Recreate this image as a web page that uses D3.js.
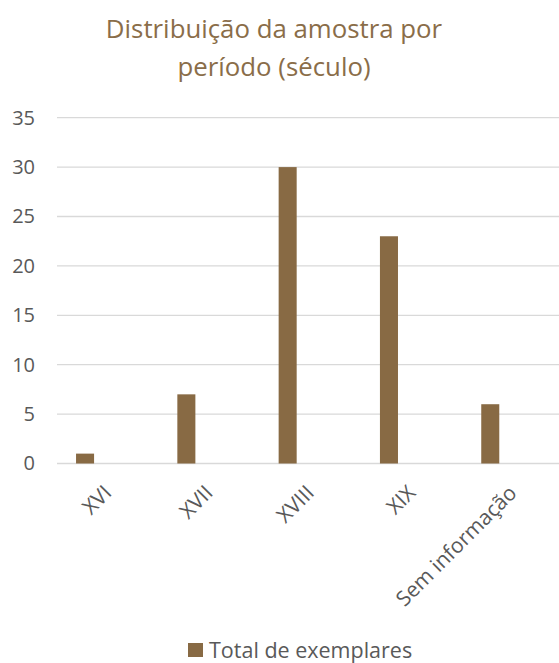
<!DOCTYPE html>
<html>
<head>
<meta charset="utf-8">
<script src="https://cdn.jsdelivr.net/npm/d3@7/dist/d3.min.js"></script>
<style>
  html, body { margin: 0; padding: 0; background: #fff; }
  svg { display: block; }
</style>
</head>
<body>
<script>
// Sample distribution by century
const categories = ["XVI", "XVII", "XVIII", "XIX", "Sem informação"];
const values = [1, 7, 30, 23, 6];
const yTicks = [0, 5, 10, 15, 20, 25, 30, 35];
const seriesName = "Total de exemplares";
const titleLines = ["Distribuição da amostra por", "período (século)"];

const W = 559, H = 663;
const FONT = "'Open Sans', sans-serif";
const BROWN = "#886a44";
const TEXT = "#595959";

const svg = d3.select("body").append("svg").attr("width", W).attr("height", H);

const x = d3.scaleBand().domain(categories).range([57, 563.5]);
const y = d3.scaleLinear().domain([0, 35]).range([463.5, 117.7]);

// title
svg.append("g").selectAll("text").data(titleLines).join("text")
  .attr("x", 274).attr("y", (d, i) => 38 + i * 38)
  .attr("text-anchor", "middle")
  .attr("font-family", FONT).attr("font-size", 25.8)
  .attr("fill", "#8a6d49")
  .text(d => d);

// gridlines
svg.append("g").selectAll("line").data(yTicks).join("line")
  .attr("x1", 57).attr("x2", W)
  .attr("y1", d => y(d)).attr("y2", d => y(d))
  .attr("stroke", "#d9d9d9").attr("stroke-width", 1.3);

// y axis labels
const yAxis = d3.axisLeft(y).tickValues(yTicks).tickSize(0).tickPadding(0);
const gy = svg.append("g").attr("transform", "translate(35,0)").call(yAxis);
gy.select(".domain").remove();
gy.selectAll("text").attr("font-family", FONT).attr("font-size", 20).attr("fill", TEXT);

// bars
const bw = x.bandwidth() * 0.178;
const off = x.bandwidth() * 0.188;
svg.append("g").selectAll("rect").data(values).join("rect")
  .attr("x", (d, i) => x(categories[i]) + off)
  .attr("y", d => y(d))
  .attr("width", bw)
  .attr("height", d => y(0) - y(d))
  .attr("fill", BROWN);

// x axis labels
const xAxis = d3.axisBottom(x).tickSize(0).tickPadding(0);
const gx = svg.append("g").attr("transform", "translate(0,489)").call(xAxis);
gx.select(".domain").remove();
gx.selectAll("text")
  .attr("font-family", FONT).attr("font-size", 21).attr("fill", TEXT)
  .attr("text-anchor", "end")
  .attr("dy", "0.35em")
  .attr("transform", "rotate(-45)");

// legend
const lg = svg.append("g").attr("transform", "translate(188,643)");
lg.append("rect").attr("width", 15).attr("height", 14).attr("fill", BROWN);
lg.append("text").attr("x", 21).attr("y", 14.5)
  .attr("font-family", FONT).attr("font-size", 21.5).attr("fill", TEXT)
  .text(seriesName);
</script>
</body>
</html>
